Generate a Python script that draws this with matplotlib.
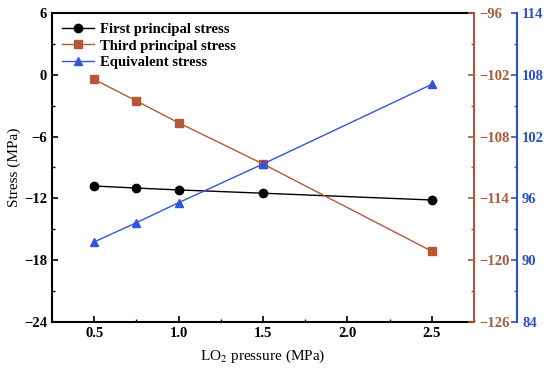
import matplotlib
matplotlib.use("Agg")
import matplotlib.pyplot as plt
from matplotlib.ticker import MultipleLocator

plt.rcParams['font.family'] = ['Liberation Serif', 'DejaVu Serif']
plt.rcParams['mathtext.fontset'] = 'stix'

pressure = [0.5, 0.75, 1.0, 1.5, 2.5]
first_principal = [-10.8, -11.0, -11.18, -11.5, -12.16]
third_principal = [-102.44, -104.54, -106.66, -110.66, -119.14]
equivalent = [91.77, 93.64, 95.58, 99.34, 107.08]

black = 'black'
red = '#b5583a'
red_axis = '#a85a3a'
blue = '#3355dd'
blue_axis = '#2a4fd0'

fig = plt.figure(figsize=(5.5, 3.73), dpi=100)
ax = fig.add_axes([0.0945, 0.137, 0.7675, 0.828])
ax2 = ax.twinx()
ax3 = ax.twinx()
ax3.spines['right'].set_position(('axes', 1.102))

l1, = ax.plot(pressure, first_principal, '-o', color=black, lw=1, ms=6,
              label='First principal stress')
l2, = ax2.plot(pressure, third_principal, '-s', color=red, lw=1, ms=5.5,
               label='Third principal stress')
l3, = ax3.plot(pressure, equivalent, '-^', color=blue, lw=1, ms=6,
               label='Equivalent stress')

ax.set_xlim(0.25, 2.75)
ax.set_ylim(-24, 6)
ax2.set_ylim(-126, -96)
ax3.set_ylim(84, 114)

ax.xaxis.set_major_locator(MultipleLocator(0.5))
ax.xaxis.set_minor_locator(MultipleLocator(0.25))
for a in (ax, ax2, ax3):
    a.yaxis.set_major_locator(MultipleLocator(6))
    a.yaxis.set_minor_locator(MultipleLocator(3))

tick_font = dict(family='Liberation Serif', weight='bold', size=10.5)

ax.tick_params(axis='both', which='major', direction='in', length=4, width=1.2)
ax.tick_params(axis='both', which='minor', direction='in', length=2, width=1)
for lab in ax.get_xticklabels() + ax.get_yticklabels():
    lab.set_fontproperties(tick_font)
ax.tick_params(axis='x', which='both', top=False)
ax.tick_params(axis='y', which='both', right=False)

ax2.tick_params(axis='y', which='major', direction='in', length=4, width=1.2,
                colors=red_axis)
ax2.tick_params(axis='y', which='minor', direction='in', length=2, width=1,
                colors=red_axis)
ax3.tick_params(axis='y', which='major', direction='in', length=4, width=1.2,
                colors=blue_axis)
ax3.tick_params(axis='y', which='minor', direction='in', length=2, width=1,
                colors=blue_axis)
for lab in ax2.get_yticklabels():
    lab.set_fontproperties(tick_font)
    lab.set_color(red_axis)
for lab in ax3.get_yticklabels():
    lab.set_fontproperties(tick_font)
    lab.set_color(blue_axis)

for s in ['left', 'bottom', 'top']:
    ax.spines[s].set_linewidth(1.5)
ax.spines['right'].set_visible(False)
ax2.spines['right'].set_color(red_axis)
ax2.spines['right'].set_linewidth(1.5)
for s in ['left', 'top', 'bottom']:
    ax2.spines[s].set_visible(False)
    ax3.spines[s].set_visible(False)
ax3.spines['right'].set_color(blue_axis)
ax3.spines['right'].set_linewidth(1.5)
ax2.spines['top'].set_visible(False)

ax.set_xlabel('LO$_2$ pressure (MPa)', fontsize=11, labelpad=6)
ax.set_ylabel('Stress (MPa)', fontsize=11, labelpad=2)

leg = ax.legend(handles=[l1, l2, l3], loc='upper left', frameon=False,
                prop=dict(family='Liberation Serif', weight='bold', size=10.5),
                handlelength=2.2, handletextpad=0.4, labelspacing=0.2,
                borderaxespad=0.3)

fig.savefig('out.png', dpi=100)
